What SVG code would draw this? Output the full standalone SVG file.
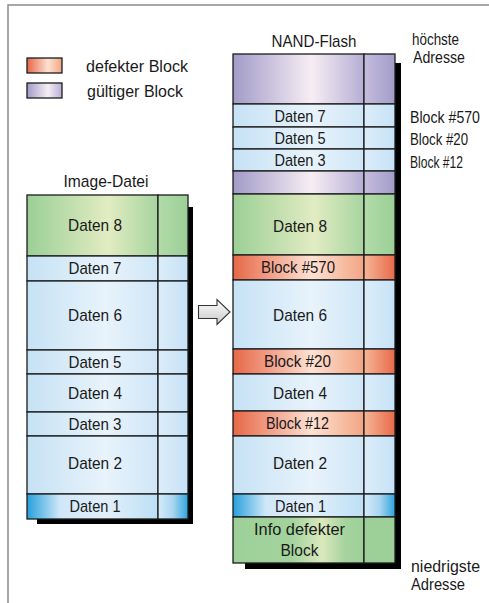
<svg xmlns="http://www.w3.org/2000/svg" width="489" height="603" viewBox="0 0 489 603">
<defs>
<linearGradient id="gG" x1="0" y1="0" x2="1" y2="0"><stop offset="0" stop-color="#9bcf96"/><stop offset="0.62" stop-color="#e2ecc2"/><stop offset="1" stop-color="#a6d49f"/></linearGradient>
<linearGradient id="gGn" x1="0" y1="0" x2="1" y2="0"><stop offset="0" stop-color="#b2dba9"/><stop offset="1" stop-color="#9bcf96"/></linearGradient>
<linearGradient id="gI" x1="0" y1="0" x2="1" y2="0"><stop offset="0" stop-color="#9dd099"/><stop offset="0.45" stop-color="#a3d39d"/><stop offset="0.68" stop-color="#dbe9bd"/><stop offset="0.85" stop-color="#a6d49f"/><stop offset="1" stop-color="#9dd099"/></linearGradient>
<linearGradient id="gB" x1="0" y1="0" x2="1" y2="0"><stop offset="0" stop-color="#c6e2f5"/><stop offset="0.6" stop-color="#e8f3fb"/><stop offset="1" stop-color="#cfe6f7"/></linearGradient>
<linearGradient id="gBn" x1="0" y1="0" x2="1" y2="0"><stop offset="0" stop-color="#dcedfa"/><stop offset="1" stop-color="#c6e2f6"/></linearGradient>
<linearGradient id="gD" x1="0" y1="0" x2="1" y2="0"><stop offset="0" stop-color="#27a0dc"/><stop offset="0.25" stop-color="#cfe7f8"/><stop offset="0.6" stop-color="#e2f0fa"/><stop offset="1" stop-color="#bcdff5"/></linearGradient>
<linearGradient id="gDn" x1="0" y1="0" x2="1" y2="0"><stop offset="0" stop-color="#d6ebf9"/><stop offset="0.5" stop-color="#a9d5f1"/><stop offset="1" stop-color="#2ea4de"/></linearGradient>
<linearGradient id="gO" x1="0" y1="0" x2="1" y2="0"><stop offset="0" stop-color="#e76747"/><stop offset="0.6" stop-color="#fde1d2"/><stop offset="1" stop-color="#f2a584"/></linearGradient>
<linearGradient id="gOn" x1="0" y1="0" x2="1" y2="0"><stop offset="0" stop-color="#f6b696"/><stop offset="1" stop-color="#e76a4a"/></linearGradient>
<linearGradient id="gP" x1="0" y1="0" x2="1" y2="0"><stop offset="0" stop-color="#a19bc8"/><stop offset="0.6" stop-color="#f7eef4"/><stop offset="1" stop-color="#b5aed5"/></linearGradient>
<linearGradient id="gPn" x1="0" y1="0" x2="1" y2="0"><stop offset="0" stop-color="#c4bddd"/><stop offset="1" stop-color="#a39cc9"/></linearGradient>
<linearGradient id="gA" x1="0" y1="0" x2="0" y2="1"><stop offset="0" stop-color="#ffffff"/><stop offset="1" stop-color="#c8c8c8"/></linearGradient>
</defs>
<style>
.r{stroke:#1c1c1c;stroke-width:1.3}
.t{font-family:"Liberation Sans",Arial,sans-serif;font-size:17px;fill:#1a1a1a;text-anchor:middle}
.l{font-family:"Liberation Sans",Arial,sans-serif;font-size:17px;fill:#1a1a1a}
.sh{fill:#000}
</style>
<rect x="8" y="5" width="490" height="610" fill="#fff" stroke="#8a8a8a" stroke-width="1.5"/>

<g id="legende">
<rect x="27" y="58" width="35" height="15" fill="url(#gO)" class="r"/>
<rect x="27" y="83" width="35" height="15" fill="url(#gP)" class="r"/>
<text class="l" x="86" y="72" textLength="102" lengthAdjust="spacingAndGlyphs">defekter Block</text>
<text class="l" x="87" y="97" textLength="96" lengthAdjust="spacingAndGlyphs">gültiger Block</text>
</g>

<g id="image-datei">
<text class="t" x="106" y="187" textLength="85" lengthAdjust="spacingAndGlyphs">Image-Datei</text>
<rect class="sh" x="37" y="207" width="156" height="317"/>
<rect x="27" y="195" width="131" height="61" fill="url(#gG)" class="r"/><rect x="158" y="195" width="30" height="61" fill="url(#gGn)" class="r"/>
<text class="t" x="95" y="231" textLength="54" lengthAdjust="spacingAndGlyphs">Daten 8</text>
<rect x="27" y="256" width="131" height="25" fill="url(#gB)" class="r"/><rect x="158" y="256" width="30" height="25" fill="url(#gBn)" class="r"/>
<text class="t" x="95" y="273.5" textLength="53" lengthAdjust="spacingAndGlyphs">Daten 7</text>
<rect x="27" y="281" width="131" height="69" fill="url(#gB)" class="r"/><rect x="158" y="281" width="30" height="69" fill="url(#gBn)" class="r"/>
<text class="t" x="95" y="320.5" textLength="54" lengthAdjust="spacingAndGlyphs">Daten 6</text>
<rect x="27" y="350" width="131" height="24" fill="url(#gB)" class="r"/><rect x="158" y="350" width="30" height="24" fill="url(#gBn)" class="r"/>
<text class="t" x="95" y="367.5" textLength="53" lengthAdjust="spacingAndGlyphs">Daten 5</text>
<rect x="27" y="374" width="131" height="38" fill="url(#gB)" class="r"/><rect x="158" y="374" width="30" height="38" fill="url(#gBn)" class="r"/>
<text class="t" x="95" y="398.5" textLength="54" lengthAdjust="spacingAndGlyphs">Daten 4</text>
<rect x="27" y="412" width="131" height="24" fill="url(#gB)" class="r"/><rect x="158" y="412" width="30" height="24" fill="url(#gBn)" class="r"/>
<text class="t" x="95" y="429.5" textLength="53" lengthAdjust="spacingAndGlyphs">Daten 3</text>
<rect x="27" y="436" width="131" height="58" fill="url(#gB)" class="r"/><rect x="158" y="436" width="30" height="58" fill="url(#gBn)" class="r"/>
<text class="t" x="95" y="468.5" textLength="54" lengthAdjust="spacingAndGlyphs">Daten 2</text>
<rect x="27" y="494" width="131" height="25" fill="url(#gD)" class="r"/><rect x="158" y="494" width="30" height="25" fill="url(#gDn)" class="r"/>
<text class="t" x="95" y="512" textLength="51" lengthAdjust="spacingAndGlyphs">Daten 1</text>
</g>

<g id="connectors">
<polygon points="198.5,305.5 217,305.5 217,299.5 230,312 217,324.5 217,318.5 198.5,318.5" fill="url(#gA)" stroke="#333" stroke-width="1.1" stroke-linejoin="miter"/>
</g>

<g id="nand-flash">
<text class="t" x="314" y="47" textLength="85" lengthAdjust="spacingAndGlyphs">NAND-Flash</text>
<rect class="sh" x="245" y="63" width="156" height="506"/>
<rect x="233" y="54" width="131" height="50" fill="url(#gP)" class="r"/><rect x="364" y="54" width="31" height="50" fill="url(#gPn)" class="r"/>
<rect x="233" y="104" width="131" height="23" fill="url(#gB)" class="r"/><rect x="364" y="104" width="31" height="23" fill="url(#gBn)" class="r"/>
<text class="t" x="300" y="121.5" textLength="51" lengthAdjust="spacingAndGlyphs">Daten 7</text>
<rect x="233" y="127" width="131" height="22" fill="url(#gB)" class="r"/><rect x="364" y="127" width="31" height="22" fill="url(#gBn)" class="r"/>
<text class="t" x="300" y="143.5" textLength="51" lengthAdjust="spacingAndGlyphs">Daten 5</text>
<rect x="233" y="149" width="131" height="22" fill="url(#gB)" class="r"/><rect x="364" y="149" width="31" height="22" fill="url(#gBn)" class="r"/>
<text class="t" x="300" y="165.5" textLength="51" lengthAdjust="spacingAndGlyphs">Daten 3</text>
<rect x="233" y="171" width="131" height="23" fill="url(#gP)" class="r"/><rect x="364" y="171" width="31" height="23" fill="url(#gPn)" class="r"/>
<rect x="233" y="194" width="131" height="61" fill="url(#gG)" class="r"/><rect x="364" y="194" width="31" height="61" fill="url(#gGn)" class="r"/>
<text class="t" x="300" y="231.5" textLength="54" lengthAdjust="spacingAndGlyphs">Daten 8</text>
<rect x="233" y="255" width="131" height="25" fill="url(#gO)" class="r"/><rect x="364" y="255" width="31" height="25" fill="url(#gOn)" class="r"/>
<text class="t" x="298" y="273" textLength="74" lengthAdjust="spacingAndGlyphs">Block #570</text>
<rect x="233" y="280" width="131" height="69" fill="url(#gB)" class="r"/><rect x="364" y="280" width="31" height="69" fill="url(#gBn)" class="r"/>
<text class="t" x="300" y="320.5" textLength="54" lengthAdjust="spacingAndGlyphs">Daten 6</text>
<rect x="233" y="349" width="131" height="25" fill="url(#gO)" class="r"/><rect x="364" y="349" width="31" height="25" fill="url(#gOn)" class="r"/>
<text class="t" x="297.5" y="367" textLength="67" lengthAdjust="spacingAndGlyphs">Block #20</text>
<rect x="233" y="374" width="131" height="37" fill="url(#gB)" class="r"/><rect x="364" y="374" width="31" height="37" fill="url(#gBn)" class="r"/>
<text class="t" x="300" y="398.5" textLength="54" lengthAdjust="spacingAndGlyphs">Daten 4</text>
<rect x="233" y="411" width="131" height="25" fill="url(#gO)" class="r"/><rect x="364" y="411" width="31" height="25" fill="url(#gOn)" class="r"/>
<text class="t" x="297.5" y="428.5" textLength="63" lengthAdjust="spacingAndGlyphs">Block #12</text>
<rect x="233" y="436" width="131" height="58" fill="url(#gB)" class="r"/><rect x="364" y="436" width="31" height="58" fill="url(#gBn)" class="r"/>
<text class="t" x="300" y="468.5" textLength="54" lengthAdjust="spacingAndGlyphs">Daten 2</text>
<rect x="233" y="494" width="131" height="23" fill="url(#gD)" class="r"/><rect x="364" y="494" width="31" height="23" fill="url(#gDn)" class="r"/>
<text class="t" x="300.5" y="512" textLength="51" lengthAdjust="spacingAndGlyphs">Daten 1</text>
<rect x="233" y="517" width="131" height="46" fill="url(#gI)" class="r"/><rect x="364" y="517" width="31" height="46" fill="#9dd099" class="r"/>
<text class="t" x="299.5" y="535" textLength="91" lengthAdjust="spacingAndGlyphs">Info defekter</text>
<text class="t" x="299.5" y="556" textLength="38" lengthAdjust="spacingAndGlyphs">Block</text>
</g>

<g id="beschriftung">
<text class="l" x="412" y="45" textLength="47" lengthAdjust="spacingAndGlyphs">höchste</text>
<text class="l" x="413" y="63" textLength="52" lengthAdjust="spacingAndGlyphs">Adresse</text>
<text class="l" x="410" y="123" textLength="70" lengthAdjust="spacingAndGlyphs">Block #570</text>
<text class="l" x="410" y="145" textLength="58" lengthAdjust="spacingAndGlyphs">Block #20</text>
<text class="l" x="410" y="168" textLength="53" lengthAdjust="spacingAndGlyphs">Block #12</text>
<text class="l" x="411" y="572" textLength="69" lengthAdjust="spacingAndGlyphs">niedrigste</text>
<text class="l" x="411" y="590" textLength="54" lengthAdjust="spacingAndGlyphs">Adresse</text>
</g>
</svg>
